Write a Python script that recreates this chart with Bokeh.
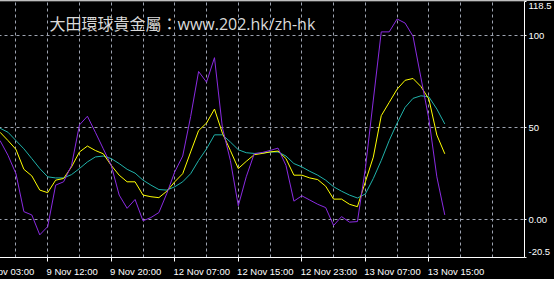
from bokeh.plotting import figure
from bokeh.models import Range1d, FixedTicker, Label
from bokeh.embed import file_html
from bokeh.resources import INLINE

# --- data (bar index -> oscillator values) ---
purple = [43, 35, 25, 4.4, 2.6, -8.2, -3.7, 18.8, 20.6, 29.5,
          51.5, 56.2, 47.5, 38.5, 29.5, 13.4, 6.2, 11, -0.6, 1.2,
          3.9, 14.3, 26, 34.6, 56, 80.5, 74.7, 88, 50, 32.2,
          7.6, 23.3, 35.8, 36.5, 37.6, 38.9, 29.5, 10.1, 13, 10.7,
          8.4, 6.6, -3.1, 1.7, -1.3, -1, 27.8, 65, 102, 102,
          109, 106.8, 99.6, 77, 54.7, 23.3, 2.6]
yellow = [47.5, 43, 38.2, 27.4, 23.8, 16.1, 14.7, 21.5, 22.4, 28.7,
          36.8, 40, 37.6, 35.8, 29.5, 24.2, 20.6, 20.6, 13.4, 12.5,
          12, 15.5, 20.6, 25, 36.8, 48.4, 52.5, 60.1, 47, 37.6,
          27.8, 31.7, 35.3, 36, 36.8, 37.3, 33.2, 24.2, 24.2, 22.7,
          21.8, 18.2, 11.2, 11.2, 8.4, 7.1, 20.6, 34, 56.5, 63.7,
          70.9, 75.7, 76.7, 72.3, 65.5, 46, 35.8]
cyan = [49.7, 47.5, 43, 38.5, 33.2, 27.8, 23.3, 22.7, 22.7, 24.5,
        27.8, 31.4, 34.1, 34.6, 33.2, 30.5, 27.4, 25.3, 21.5, 18.8,
        16.4, 16.1, 17.9, 20.6, 25, 32.2, 38.5, 46.1, 46.1, 42.2,
        38, 36.4, 36, 36.2, 36.8, 36.8, 34.6, 30.5, 28.7, 26.3,
        24.2, 21.5, 17.9, 15.5, 13.4, 11.8, 14, 22.4, 32.2, 43,
        52.5, 61, 65.9, 67.3, 66.7, 60.1, 52]
bars = list(range(len(purple)))

time_labels = ["9 Nov 03:00", "9 Nov 12:00", "9 Nov 20:00", "12 Nov 07:00",
               "12 Nov 15:00", "12 Nov 23:00", "13 Nov 07:00", "13 Nov 15:00"]
time_label_bars = [-2, 6, 14, 22, 30, 38, 46, 54]
grid_bars = list(range(2, 66, 4))
y_ticks = [0, 50, 100]
y_tick_labels = ["0.00", "50", "100"]
y_min, y_max = -20.5, 118.5
y_min_label, y_max_label = "-20.5", "118.5"
title_text = "大田環球貴金屬：www.202.hk/zh-hk"

# --- layout ---
W, H = 554, 279
HIDDEN = 20                       # extra canvas on the left, scrolled out of view
frame_w, frame_h = 528, 258
bar_px = 8.0
x_start = 0.3 / bar_px
x_end = x_start + frame_w / bar_px
upp = (y_max - y_min) / frame_h   # data units per pixel (y)
label_font = "Liberation Sans"
label_size = 9.5

# Arial / Liberation Sans advance widths (1/1000 em)
ADV = {" ": 278, "N": 722, "o": 556, "v": 500, ":": 278, ".": 278, "-": 333}
def text_w(s, size):
    return sum(ADV.get(c, 556) for c in s) * size / 1000.0

p = figure(width=W + HIDDEN, height=H, output_backend="svg", toolbar_location=None,
           x_range=Range1d(x_start - HIDDEN / bar_px, x_end),
           y_range=Range1d(y_min, y_max),
           y_axis_location="right",
           min_border_left=0, min_border_right=W - frame_w, min_border_top=1,
           min_border_bottom=H - frame_h - 1,
           background_fill_color="black", border_fill_color="black",
           outline_line_color=None, margin=(0, 0, 0, -HIDDEN))

grid_color = "#9DA3B0"
p.xgrid.ticker = FixedTicker(ticks=grid_bars)
p.ygrid.ticker = FixedTicker(ticks=y_ticks)
for g in (p.xgrid[0], p.ygrid[0]):
    g.grid_line_color = grid_color
    g.grid_line_dash = "3 3"
    g.grid_line_width = 1

# x axis: labels left-aligned at their bar (centre shifted by half the text width),
# small white stubs (minor ticks) at the bars themselves
centers = [b + (text_w(t, label_size) / 2 - 1) / bar_px
           for b, t in zip(time_label_bars, time_labels)]
xa = p.xaxis[0]
xa.ticker = FixedTicker(ticks=centers, minor_ticks=time_label_bars)
xa.major_label_overrides = {c: t for c, t in zip(centers, time_labels)}
xa.axis_line_color = "white"
xa.major_tick_line_color = None
xa.major_tick_out = 0
xa.major_tick_in = 0
xa.minor_tick_line_color = "white"
xa.minor_tick_out = 4
xa.minor_tick_in = 0
xa.major_label_standoff = 4
xa.major_label_text_color = "white"
xa.major_label_text_font = label_font
xa.major_label_text_font_size = f"{label_size}px"

# right axis: extreme labels sit just inside the frame, stubs at the real values
top_pos = y_max - 5 * upp
bot_pos = y_min + 5.5 * upp
ya = p.yaxis[0]
ya.ticker = FixedTicker(ticks=[bot_pos] + y_ticks + [top_pos],
                        minor_ticks=[y_min] + y_ticks + [y_max])
overrides = {v: s for v, s in zip(y_ticks, y_tick_labels)}
overrides[top_pos] = y_max_label
overrides[bot_pos] = y_min_label
ya.major_label_overrides = overrides
ya.axis_line_color = "white"
ya.major_tick_line_color = None
ya.major_tick_out = 0
ya.major_tick_in = 0
ya.minor_tick_line_color = "white"
ya.minor_tick_out = 2
ya.minor_tick_in = 0
ya.major_label_standoff = 2
ya.major_label_text_color = "white"
ya.major_label_text_font = label_font
ya.major_label_text_font_size = f"{label_size}px"

p.line(bars, cyan, line_color="#20B2AA", line_width=1)
p.line(bars, yellow, line_color="#FFFF00", line_width=1)
p.line(bars, purple, line_color="#8A2BE2", line_width=1)

p.add_layout(Label(x=49 + HIDDEN, y=frame_h - 24, x_units="screen", y_units="screen",
                   text=title_text, text_align="left", text_baseline="middle",
                   text_color="#DADADA", text_font="Open Sans, Noto Sans CJK TC",
                   text_font_size="16px"))

open("out.html", "w").write(file_html(p, INLINE))
